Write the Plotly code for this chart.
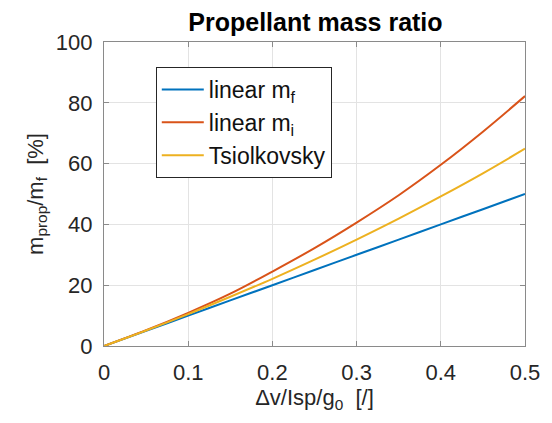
import plotly.graph_objects as go

x_vals = [0, 0.05, 0.1, 0.15, 0.2, 0.25, 0.3, 0.35, 0.4, 0.45, 0.5]
linear_mf = [0, 5, 10, 15, 20, 25, 30, 35, 40, 45, 50]
linear_mi = [0, 5.2, 10.9, 17.2, 24.5, 32.2, 40.6, 49.6, 59.6, 70.5, 82.2]
tsiolkovsky = [0, 5.1, 10.5, 16.2, 22.1, 28.4, 35.0, 41.9, 49.2, 56.8, 64.9]

names = ["linear m<sub>f</sub>", "linear m<sub>i</sub>", "Tsiolkovsky"]
colors = ["#0072BD", "#D95319", "#EDB120"]
series = [linear_mf, linear_mi, tsiolkovsky]

font = "Liberation Sans, Arial, Helvetica, sans-serif"

fig = go.Figure()
for n, c, s in zip(names, colors, series):
    fig.add_trace(go.Scatter(x=x_vals, y=s, mode="lines", name=n,
                             line=dict(color=c, width=2, shape="spline")))

axis_common = dict(
    showgrid=True, gridcolor="#E3E3E3", gridwidth=1,
    showline=True, linecolor="#8A8A8A", linewidth=1.3, mirror="ticks",
    ticks="inside", ticklen=5, tickcolor="#8A8A8A",
    zeroline=False,
    tickfont=dict(family=font, size=22, color="#262626"),
)

fig.update_layout(
    width=552, height=423,
    margin=dict(l=104, r=25, t=42, b=77),
    paper_bgcolor="white", plot_bgcolor="white",
    title=dict(text="<b>Propellant mass ratio</b>", x=0.5715, xanchor="center",
               y=0.948, yanchor="middle",
               font=dict(family=font, size=25, color="black")),
    xaxis=dict(range=[0, 0.5], tickvals=[0, 0.1, 0.2, 0.3, 0.4, 0.5],
               ticktext=["0", "0.1", "0.2", "0.3", "0.4", "0.5"],
               ticklabelstandoff=6,
               title=dict(text="Δv/Isp/g<sub>0</sub>  [/]", standoff=6,
                          font=dict(family=font, size=22, color="#262626")),
               **axis_common),
    yaxis=dict(range=[0, 100], tickvals=[0, 20, 40, 60, 80, 100],
               ticklabelstandoff=6,
               title=dict(text="m<sub>prop</sub>/m<sub>f</sub>  [%]", standoff=6,
                          font=dict(family=font, size=22, color="#262626")),
               **axis_common),
    legend=dict(x=0.123, y=0.918, xanchor="left", yanchor="top",
                bgcolor="white", bordercolor="#262626", borderwidth=1,
                font=dict(family=font, size=23, color="#111111"),
                itemwidth=42, tracegroupgap=0),
    showlegend=True,
)

fig.write_html("out.html")
